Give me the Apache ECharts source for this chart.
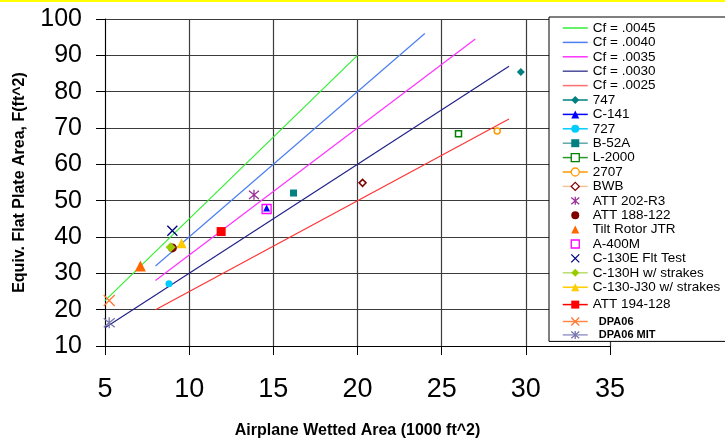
<!DOCTYPE html>
<html><head><meta charset="utf-8">
<script src="https://cdn.jsdelivr.net/npm/echarts@6/dist/echarts.min.js"></script>
<style>html,body{margin:0;padding:0;background:#fff}#c{width:725px;height:439px}</style>
</head><body><div id="c"></div>
<script>
// ---- data ----
const cfNames = ['Cf = .0045', 'Cf = .0040', 'Cf = .0035', 'Cf = .0030', 'Cf = .0025'];
const cfLines = [
  [[5, 22.5], [20, 90]],
  [[8, 32], [24, 96]],
  [[8, 28], [27, 94.5]],
  [[5, 15], [29, 87]],
  [[8, 20], [29, 72.5]]
];
const pointNames = ['747', 'C-141', '727', 'B-52A', 'L-2000', '2707', 'BWB', 'ATT 202-R3', 'ATT 188-122',
  'Tilt Rotor JTR', 'A-400M', 'C-130E Flt Test', 'C-130H w/ strakes', 'C-130-J30 w/ strakes', 'ATT 194-128',
  'DPA06', 'DPA06 MIT'];
const pointX = [29.7, 14.6, 8.8, 16.2, 26.0, 28.3, 20.3, 13.85, 9.0, 7.1, 14.6, 9.0, 8.9, 9.55, 11.9, 5.25, 5.25];
const pointY = [85.4, 48.0, 27.1, 52.1, 68.4, 69.2, 54.9, 51.6, 37.0, 32.0, 47.7, 41.7, 37.2, 38.3, 41.5, 22.5, 16.4];
const xTicks = [5, 10, 15, 20, 25, 30, 35];
const yTicks = [10, 20, 30, 40, 50, 60, 70, 80, 90, 100];

// ---- styles ----
const FONT = "'Liberation Sans', Arial, sans-serif";
const XS = 'path://M0,0L10,10M10,0L0,10';
const STAR = 'path://M0,0L10,10M10,0L0,10M5,-1L5,11';
const cfColors = ['#33ee33', '#4d7ff0', '#ff33ff', '#22228a', '#ff3333'];
const cfLegendColors = ['#33ee33', '#4d7ff0', '#ff33ff', '#4a4a99', '#ff7070'];
const pStyle = [
  {s: 'diamond', z: 8, f: '#008080', l: '#008080'},
  {s: 'triangle', z: 7, f: '#0000ff', l: '#0000ff'},
  {s: 'circle', z: 7, f: '#00ccff', l: '#00ccff'},
  {s: 'rect', z: 7, f: '#008080', l: '#5fa8a8'},
  {s: 'rect', z: 6, f: '#fff', b: '#008000', w: 1.5, l: '#2a9a2a'},
  {s: 'circle', z: 6, f: '#fff', b: '#ff9900', w: 1.5, l: '#ff9900'},
  {s: 'diamond', z: 7, f: '#fff', b: '#800000', w: 1.5, l: '#f5c29a'},
  {s: STAR, z: 10, f: 'none', b: '#993399', w: 1.3, l: null},
  {s: 'circle', z: 9, f: '#800000', l: null},
  {s: 'triangle', z: 11, f: '#ff6600', l: null},
  {s: 'rect', z: 9, f: 'none', b: '#ff00ff', w: 1.3, l: null},
  {s: XS, z: 10, f: 'none', b: '#000080', w: 1.3, l: null},
  {s: 'diamond', z: 10, f: '#99cc00', l: '#b8dd70'},
  {s: 'triangle', z: 10, f: '#ffcc00', l: '#ffcc00'},
  {s: 'rect', z: 9, f: '#ff0000', l: '#ff0000'},
  {s: XS, z: 11, f: 'none', b: '#ff7733', w: 1.3, l: '#ff8844'},
  {s: STAR, z: 11, f: 'none', b: '#7777aa', w: 1.3, l: '#9999cc'}
];

const series = [];
const legendData = [];
cfNames.forEach((n, i) => {
  series.push({
    name: n, type: 'line', data: cfLines[i], symbol: 'none', silent: true,
    lineStyle: {color: cfColors[i], width: 1.2}, itemStyle: {color: cfColors[i]}
  });
  legendData.push({
    name: n,
    itemStyle: {color: 'rgba(0,0,0,0)', borderColor: 'rgba(0,0,0,0)', borderWidth: 0},
    lineStyle: {color: cfLegendColors[i]}
  });
});
pointNames.forEach((n, i) => {
  const st = pStyle[i];
  series.push({
    name: n, type: 'line', data: [[pointX[i], pointY[i]]], symbol: st.s, symbolSize: st.z,
    showSymbol: true, silent: true,
    itemStyle: {color: st.f, borderColor: st.b || st.f, borderWidth: st.w || 0},
    lineStyle: {color: st.l || 'rgba(0,0,0,0)', width: 1.5}
  });
  const item = {name: n};
  if (!st.l) item.lineStyle = {color: 'rgba(0,0,0,0)', width: 0};
  if (st.w) item.itemStyle = {borderWidth: 1.3};
  if (n.startsWith('DPA06')) item.textStyle = {fontWeight: 'bold', fontSize: 11, lineHeight: 13};
  if (n === 'ATT 194-128') item.textStyle = {lineHeight: 20};
  legendData.push(item);
});

const chart = echarts.init(document.getElementById('c'), null, {renderer: 'canvas'});
chart.setOption({
  animation: false,
  backgroundColor: '#fff',
  textStyle: {fontFamily: FONT},
  graphic: [{type: 'rect', shape: {x: 0, y: 0, width: 725, height: 2}, style: {fill: '#ffff00'}, z: 100}],
  grid: {left: 105, right: 115, top: 19, bottom: 93, containLabel: false, outerBoundsMode: 'none'},
  xAxis: {
    type: 'value', min: xTicks[0], max: xTicks[xTicks.length - 1], interval: 5,
    axisLine: {show: true, onZero: false, lineStyle: {color: '#000', width: 1}},
    axisTick: {show: true, length: 9, lineStyle: {color: '#000'}},
    axisLabel: {fontSize: 27, margin: 30, color: '#000', fontFamily: FONT},
    splitLine: {show: true, lineStyle: {color: '#3c3c3c', width: 1.2}},
    name: 'Airplane Wetted Area (1000 ft^2)', nameLocation: 'middle', nameGap: 77,
    nameTextStyle: {fontWeight: 'bold', fontSize: 16, color: '#000', fontFamily: FONT}
  },
  yAxis: {
    type: 'value', min: yTicks[0], max: yTicks[yTicks.length - 1], interval: 10,
    axisLine: {show: true, onZero: false, lineStyle: {color: '#000', width: 1}},
    axisTick: {show: true, length: 9, lineStyle: {color: '#000'}},
    axisLabel: {fontSize: 25, margin: 23, color: '#000', fontFamily: FONT},
    splitLine: {show: true, lineStyle: {color: '#3c3c3c', width: 1.2}},
    name: 'Equiv. Flat Plate Area, F(ft^2)', nameLocation: 'middle', nameGap: 77, nameRotate: 90,
    nameTextStyle: {fontWeight: 'bold', fontSize: 16, color: '#000', fontFamily: FONT}
  },
  legend: {
    orient: 'vertical', left: 549, top: 17, padding: [4, 10, 0, 13],
    itemWidth: 25, itemHeight: 10, itemGap: 0.4,
    backgroundColor: '#fff', borderColor: '#000', borderWidth: 1,
    textStyle: {fontFamily: FONT, fontSize: 13.5, lineHeight: 13.5, color: '#000'},
    lineStyle: {width: 1.5},
    formatter: n => n.startsWith('DPA06') ? '  ' + n : n,
    selectedMode: false,
    data: legendData
  },
  series: series
});
</script></body></html>
